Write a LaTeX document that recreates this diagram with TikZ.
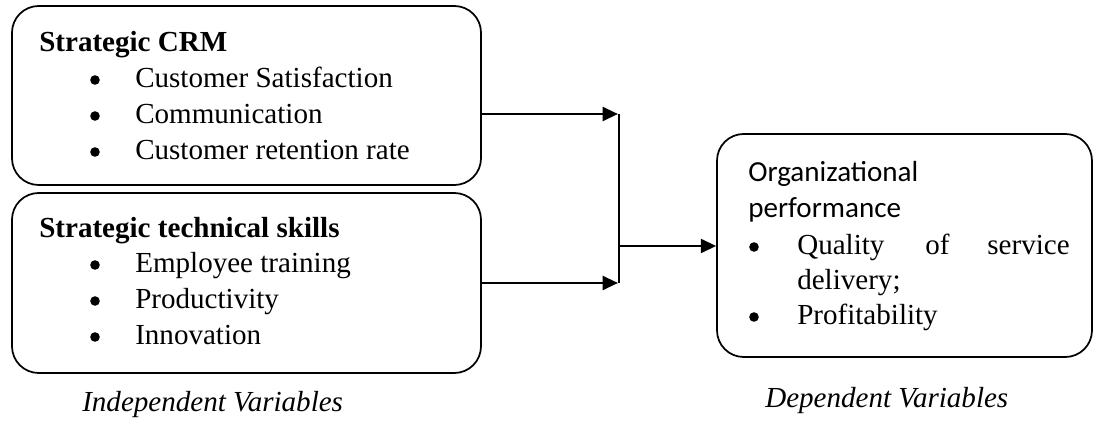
\documentclass[tikz,border=0pt]{standalone}
\usepackage{fontspec}
\setmainfont{Liberation Serif}[BoldFont={Liberation Serif Bold},ItalicFont={Liberation Serif Italic}]
\newfontfamily\calib{Carlito}
\usetikzlibrary{arrows.meta,fit}
\begin{document}
\begin{tikzpicture}[x=0.75pt,y=-0.75pt,
  box/.style={draw,line width=1.3pt,rounded corners=20pt,inner sep=0pt},
  txt/.style={anchor=base west,inner sep=0pt,font=\fontsize{21.8}{27}\selectfont},
  bul/.style={anchor=center,circle,fill,inner sep=0pt,minimum size=7.2pt},
  lbl/.style={anchor=base west,inner sep=0pt,font=\fontsize{21.8}{27}\selectfont\itshape},
  arr/.style={line width=1.7pt,-{Triangle[length=11.5pt,width=10.5pt]}},
  lin/.style={line width=1.7pt}]
\useasboundingbox (0,0) rectangle (1093,427);
% boxes
\coordinate (b1nw) at (12,6);   \coordinate (b1se) at (481,185);
\coordinate (b2nw) at (12,193); \coordinate (b2se) at (481,373);
\coordinate (b3nw) at (717,134); \coordinate (b3se) at (1092,357);
\node[box,fit=(b1nw)(b1se)] (b1) {};
\node[box,fit=(b2nw)(b2se)] (b2) {};
\node[box,fit=(b3nw)(b3se)] (b3) {};
% box 1 text
\node[txt] (t1) at (39,52) {\textbf{Strategic CRM}};
\node[bul] (t1b1) at (95,80) {};  \node[txt] (t1i1) at (135,88) {Customer Satisfaction};
\node[bul] (t1b2) at (95,116) {}; \node[txt] (t1i2) at (135,124) {Communication};
\node[bul] (t1b3) at (95,152) {}; \node[txt] (t1i3) at (135,160) {Customer retention rate};
% box 2 text
\node[txt] (t2) at (39,238) {\textbf{Strategic technical skills}};
\node[bul] (t2b1) at (95,265) {}; \node[txt] (t2i1) at (135,273) {Employee training};
\node[bul] (t2b2) at (95,301) {}; \node[txt] (t2i2) at (135,309) {Productivity};
\node[bul] (t2b3) at (95,337) {}; \node[txt] (t2i3) at (135,345) {Innovation};
% box 3 text
\node[txt] (t3a) at (748,182) {\calib Organizational};
\node[txt] (t3b) at (748,218) {\calib performance};
\node[bul] (t3b1) at (754,247) {};
\node[txt] (t3i1a) at (797,255) {Quality};
\node[txt] (t3i1b) at (925,255) {of};
\node[txt,anchor=base east] (t3i1c) at (1070,255) {service};
\node[txt] (t3i1d) at (797,290) {delivery;};
\node[bul] (t3b2) at (754,317) {};
\node[txt] (t3i2) at (797,325) {Profitability};
% labels
\node[lbl] (lind) at (82,412) {Independent Variables};
\node[lbl] (ldep) at (765,408) {Dependent Variables};
% connectors
\coordinate (j1) at (619,114);
\coordinate (j2) at (619,283);
\coordinate (jm) at (619,246);
\draw[arr] (b1.east |- j1) -- ([xshift=-0.8pt]j1);
\draw[arr] (b2.east |- j2) -- ([xshift=-0.8pt]j2);
\draw[lin] (j1) -- (j2);
\draw[arr] (jm) -- (b3.west |- jm);
\end{tikzpicture}
\end{document}
